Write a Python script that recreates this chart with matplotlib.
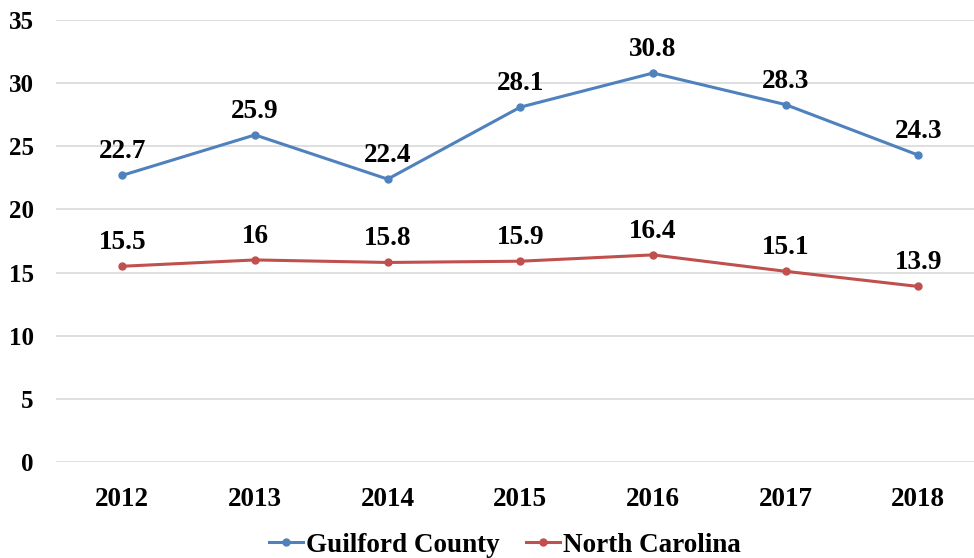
import matplotlib
matplotlib.use("Agg")
import matplotlib.pyplot as plt

years = ["2012", "2013", "2014", "2015", "2016", "2017", "2018"]
guilford = [22.7, 25.9, 22.4, 28.1, 30.8, 28.3, 24.3]
nc = [15.5, 16, 15.8, 15.9, 16.4, 15.1, 13.9]
guilford_labels = ["22.7", "25.9", "22.4", "28.1", "30.8", "28.3", "24.3"]
nc_labels = ["15.5", "16", "15.8", "15.9", "16.4", "15.1", "13.9"]
yticks = [0, 5, 10, 15, 20, 25, 30, 35]

plt.rcParams['font.family'] = ['Liberation Serif', 'DejaVu Serif']
plt.rcParams['font.weight'] = 'bold'

fig = plt.figure(figsize=(9.74, 5.58), dpi=100)
ax = fig.add_axes([56/974, 96/558, 1 - 56/974, 442/558])

x = list(range(len(years)))
blue = "#4F81BD"
red = "#C0504D"
l1, = ax.plot(x, guilford, color=blue, lw=2.2, marker='o', ms=5, label="Guilford County")
l2, = ax.plot(x, nc, color=red, lw=2.2, marker='o', ms=5, label="North Carolina")

for xi, v, s in zip(x, guilford, guilford_labels):
    ax.annotate(s, (xi, v), xytext=(0, 8), textcoords='offset points',
                ha='center', va='bottom', fontsize=19.5, fontweight='bold')
for xi, v, s in zip(x, nc, nc_labels):
    ax.annotate(s, (xi, v), xytext=(0, 8), textcoords='offset points',
                ha='center', va='bottom', fontsize=19.5, fontweight='bold')

ax.set_xlim(-0.5, 6.42)
ax.set_ylim(0, 35)
ax.set_yticks(yticks)
ax.set_xticks(x)
ax.set_xticklabels(years)
ax.grid(axis='y', color='#D9D9D9', lw=1.2)
ax.set_axisbelow(True)
for sp in ax.spines.values():
    sp.set_visible(False)
ax.tick_params(axis='x', length=0, labelsize=19.5, pad=18)
ax.tick_params(axis='y', length=0, labelsize=18, pad=16)
for t in ax.get_xticklabels() + ax.get_yticklabels():
    t.set_fontweight('bold')

leg = fig.legend(handles=[l1, l2], loc='center', bbox_to_anchor=(505/974, 1 - 545/558),
                 ncol=2, frameon=False, handlelength=1.25,
                 handletextpad=0.1, columnspacing=1.0,
                 prop={'weight': 'bold', 'size': 19.5})

fig.savefig("out.png", dpi=100)
